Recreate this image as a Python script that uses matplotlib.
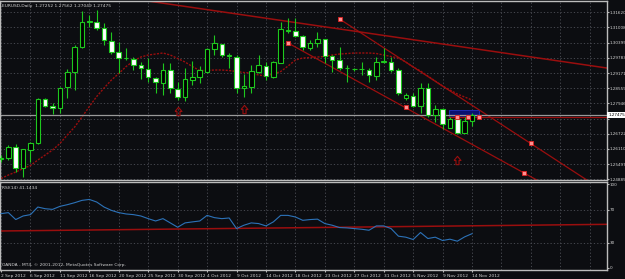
import numpy as np
import matplotlib.pyplot as plt
from matplotlib.patches import Rectangle
from matplotlib.path import Path

# EURUSD daily, 65 bars from 2 Sep 2012 to 14 Nov 2012
opens = [1.25704, 1.25732, 1.26175, 1.25353, 1.26067, 1.26337, 1.28111, 1.27853, 1.27748, 1.28607,
         1.29224, 1.30208, 1.31229, 1.31241, 1.30975, 1.30475, 1.30031, 1.29765, 1.29737, 1.29482,
         1.29333, 1.28982, 1.28781, 1.29293, 1.28515, 1.28192, 1.28890, 1.28999, 1.29224, 1.30128,
         1.30329, 1.29870, 1.29829, 1.28555, 1.28619, 1.29224, 1.29466, 1.28999, 1.29587, 1.30878,
         1.30866, 1.30676, 1.30192, 1.30370, 1.30531, 1.29858, 1.29696, 1.29362, 1.29321, 1.29321,
         1.29293, 1.29063, 1.29628, 1.29628, 1.29293, 1.28152, 1.28244, 1.27841, 1.28579, 1.27478,
         1.27720, 1.26966, 1.27305, 1.26764, 1.27252]
highs = [1.25865, 1.26268, 1.26309, 1.26107, 1.26401, 1.28152, 1.28152, 1.27974, 1.28595, 1.29333,
         1.30301, 1.31672, 1.31511, 1.31713, 1.31176, 1.30838, 1.30434, 1.30180, 1.29829, 1.29628,
         1.29765, 1.29023, 1.29563, 1.29563, 1.28821, 1.29362, 1.29656, 1.29454, 1.30180, 1.30704,
         1.30342, 1.29966, 1.29898, 1.29132, 1.29495, 1.29898, 1.29628, 1.29656, 1.31241, 1.31378,
         1.31378, 1.30704, 1.30503, 1.30813, 1.30543, 1.29898, 1.30233, 1.29495, 1.29374, 1.29628,
         1.29362, 1.29829, 1.30168, 1.29829, 1.29374, 1.28365, 1.28365, 1.28757, 1.28757, 1.27881,
         1.27760, 1.27397, 1.27397, 1.27410, 1.27562]
lows = [1.25583, 1.25663, 1.25191, 1.24990, 1.25595, 1.26309, 1.27801, 1.27518, 1.27571, 1.28152,
        1.28486, 1.30180, 1.31039, 1.30906, 1.30301, 1.29938, 1.29160, 1.29696, 1.29293, 1.28918,
        1.28821, 1.28353, 1.28285, 1.28353, 1.28083, 1.28055, 1.28688, 1.28781, 1.29172, 1.29898,
        1.29817, 1.29362, 1.28353, 1.28216, 1.28377, 1.29172, 1.28890, 1.28958, 1.29575, 1.30773,
        1.30636, 1.30100, 1.30100, 1.30233, 1.29563, 1.29224, 1.29293, 1.28821, 1.29253, 1.29091,
        1.28821, 1.28890, 1.29563, 1.29224, 1.28285, 1.28083, 1.27813, 1.27559, 1.27397, 1.27208,
        1.26901, 1.26954, 1.26752, 1.26752, 1.27049]
closes = [1.25744, 1.26175, 1.25353, 1.26095, 1.26337, 1.28123, 1.27853, 1.27748, 1.28587, 1.29212,
          1.30233, 1.31241, 1.31250, 1.30975, 1.30503, 1.30031, 1.29765, 1.29777, 1.29495, 1.29362,
          1.28999, 1.28797, 1.29293, 1.28555, 1.28216, 1.28930, 1.28999, 1.29293, 1.30128, 1.30370,
          1.29898, 1.29886, 1.28555, 1.28648, 1.29253, 1.29495, 1.29051, 1.29603, 1.30934, 1.30894,
          1.30676, 1.30208, 1.30370, 1.30531, 1.29858, 1.29696, 1.29362, 1.29374, 1.29333, 1.29333,
          1.29091, 1.29603, 1.29644, 1.29293, 1.28353, 1.28285, 1.27853, 1.28555, 1.27478, 1.27720,
          1.27103, 1.27305, 1.26764, 1.27236, 1.27475]
ma = [1.24917, 1.25058, 1.25179, 1.25320, 1.25441, 1.25663, 1.25865, 1.26067, 1.26329, 1.26671,
      1.26994, 1.27397, 1.27821, 1.28224, 1.28567, 1.28890, 1.29152, 1.29434, 1.29656, 1.29817,
      1.29898, 1.29938, 1.29979, 1.29898, 1.29757, 1.29616, 1.29434, 1.29273, 1.29273, 1.29293,
      1.29293, 1.29273, 1.29232, 1.29192, 1.29172, 1.29091, 1.29051, 1.29132, 1.29232, 1.29454,
      1.29696, 1.29777, 1.29797, 1.29817, 1.29837, 1.29898, 1.29938, 1.29958, 1.29979, 1.29979,
      1.29979, 1.29958, 1.29898, 1.29837, 1.29777, 1.29616, 1.29414, 1.29253, 1.29051, 1.28849,
      1.28648, 1.28486, 1.28325, 1.28204, 1.28083]
rsi = [65.1, 66.3, 58.0, 62.3, 63.9, 73.0, 71.0, 70.2, 73.8, 75.8,
       78.2, 81.0, 82.1, 79.0, 73.0, 69.0, 66.3, 64.7, 63.9, 62.3,
       59.1, 56.3, 59.1, 54.0, 48.8, 54.0, 55.2, 56.3, 63.0, 60.3,
       59.1, 59.9, 47.2, 51.2, 54.0, 53.2, 50.4, 55.2, 63.0, 63.0,
       61.1, 57.1, 58.0, 58.5, 53.2, 51.2, 48.4, 48.0, 47.2, 46.4,
       45.2, 50.4, 50.4, 47.2, 38.1, 36.9, 34.1, 42.5, 35.3, 36.9,
       32.9, 34.5, 32.1, 37.3, 41.1]

date_labels = ['2 Sep 2012', '6 Sep 2012', '11 Sep 2012', '16 Sep 2012', '20 Sep 2012',
               '25 Sep 2012', '30 Sep 2012', '4 Oct 2012', '9 Oct 2012', '14 Oct 2012',
               '18 Oct 2012', '23 Oct 2012', '27 Oct 2012', '31 Oct 2012', '5 Nov 2012',
               '9 Nov 2012', '14 Nov 2012']
price_ticks = [1.31620, 1.31008, 1.30395, 1.29783, 1.29171, 1.28559, 1.27946, 1.27334,
               1.26722, 1.26110, 1.25497, 1.24885]
price_labels = ['1.31620', '1.31008', '1.30395', '1.29783', '1.29171', '1.28559', '1.27946', '',
                '1.26722', '1.26110', '1.25497', '1.24885']
rsi_ticks = [0, 30, 70, 100]

# drawn objects
trend_x = [20, 83]
trend_y = [1.32075, 1.29344]
chan_up_x = [46, 79.6]
chan_up_y = [1.31350, 1.24857]
chan_lo_x = [39, 72.8]
chan_lo_y = [1.30382, 1.24857]
dots_x = [39, 46, 55, 62, 63.5, 65, 72, 71.1]
dots_y = [1.30382, 1.31350, 1.27801, 1.27397, 1.27397, 1.27397, 1.26349, 1.25139]
arrows_x = [24, 33, 62]
arrows_y = [1.27640, 1.27720, 1.25663]
box_x = [60.9, 65.0]
box_y = [1.27397, 1.27680]
red_level = 1.27397
bid = 1.27475
rsi_line_x = [-0.2, 82.4]
rsi_line_y = [44.3, 52.3]

bg = '#0c0d11'
green = '#1ec81e'
dred = '#9a0e0e'
txt = '#d2d2d2'
gridc = '#4e5058'
fs = 3.2

plt.rcParams['font.family'] = 'DejaVu Sans'
fig = plt.figure(figsize=(6.25, 2.79), dpi=100, facecolor=bg)
ax = fig.add_axes([0.0, 0.3548, 0.9712, 0.6416], facecolor=bg)
ax2 = fig.add_axes([0.0, 0.0305, 0.9712, 0.3172], facecolor=bg, sharex=ax)

x = np.arange(len(opens))
xmin, xmax = -0.14, 82.34

# grid
for a in (ax, ax2):
    for s in a.spines.values():
        s.set_color('#bcbcbc')
        s.set_linewidth(1.0)
    for k in range(0, 84, 4):
        a.axvline(k, color=gridc, lw=0.6, ls=(0, (1.5, 2.5)), zorder=0)
for p in price_ticks:
    ax.axhline(p, color=gridc, lw=0.6, ls=(0, (1.5, 2.5)), zorder=0)
for p in (30, 70):
    ax2.axhline(p, color=gridc, lw=0.6, ls=(0, (1.5, 2.5)), zorder=0)

# candles
ax.vlines(x, lows, highs, color=green, lw=0.8, zorder=3)
o = np.array(opens)
c = np.array(closes)
face = ['black' if cc >= oo else 'white' for oo, cc in zip(o, c)]
ax.bar(x, np.abs(c - o), bottom=np.minimum(o, c), width=0.62, color=face,
       edgecolor=green, linewidth=0.8, zorder=4)

# moving average and objects
ax.plot(x, ma, color=dred, lw=1.0, ls=(0, (1.5, 1)), zorder=2)
ax.plot(trend_x, trend_y, color=dred, lw=1.1, zorder=2)
ax.plot(chan_up_x, chan_up_y, color=dred, lw=0.9, zorder=2)
ax.plot(chan_lo_x, chan_lo_y, color=dred, lw=0.9, zorder=2)
ax.add_patch(Rectangle((box_x[0], box_y[0]), box_x[1] - box_x[0], box_y[1] - box_y[0],
                       facecolor='#0a1070', edgecolor='#2030c0', lw=0.6, zorder=1))
ax.axhline(bid, color='#9a9a9a', lw=0.9, zorder=2)
ax.plot([box_x[0], xmax], [red_level, red_level], color=dred, lw=0.9, zorder=2)
ax.plot(dots_x, dots_y, ls='none', marker='s', ms=2.2, mfc='#ff9090', mec='#e02020',
        mew=0.6, zorder=6)
arrow = Path([(-0.5, 0), (0, 0.6), (0.5, 0), (0.22, 0), (0.22, -0.6), (-0.22, -0.6),
              (-0.22, 0), (-0.5, 0)])
ax.plot(arrows_x, arrows_y, ls='none', marker=arrow, ms=6, mfc='none', mec=dred,
        mew=0.8, zorder=6)

ax.set_xlim(xmin, xmax)
ax.set_ylim(1.24857, 1.32076)
ax.yaxis.tick_right()
ax.set_yticks(price_ticks)
ax.set_yticklabels(price_labels)
ax.tick_params(axis='y', colors='#bcbcbc', labelcolor=txt, labelsize=3.0, length=1.2, pad=0.6)
ax.tick_params(axis='x', bottom=False, labelbottom=False)
ax.text(1.002, bid, '1.27475', transform=ax.get_yaxis_transform(), fontsize=3.0,
        color='black', va='center', ha='left',
        bbox=dict(boxstyle='square,pad=0.2', fc='white', ec='none'))
ax.text(0.004, 0.985, 'EURUSD,Daily  1.27252 1.27562 1.27049 1.27475', transform=ax.transAxes,
        fontsize=fs, color=txt, va='top', ha='left')

# RSI
ax2.plot(x, rsi, color='#2c72b8', lw=0.8, zorder=3)
ax2.plot(rsi_line_x, rsi_line_y, color=dred, lw=1.1, zorder=2)
ax2.set_ylim(-3, 103)
ax2.yaxis.tick_right()
ax2.set_yticks(rsi_ticks)
ax2.set_yticklabels([str(t) for t in rsi_ticks])
ax2.tick_params(axis='y', colors='#bcbcbc', labelcolor=txt, labelsize=3.0, length=1.2, pad=0.6)
ax2.set_xticks(np.arange(0, 4 * len(date_labels), 4))
ax2.set_xticklabels(date_labels, ha='left')
ax2.tick_params(axis='x', colors='#bcbcbc', labelcolor=txt, labelsize=fs, length=1.5, pad=0.8)
ax2.text(0.004, 0.96, 'RSI(14) 41.1434', transform=ax2.transAxes, fontsize=fs, color=txt,
         va='top', ha='left')
ax2.text(0.004, 0.04, 'OANDA - MT4, \u00a9 2001-2012, MetaQuotes Software Corp.',
         transform=ax2.transAxes, fontsize=fs, color=txt, va='bottom', ha='left')

plt.savefig('out.png', dpi=100, facecolor=bg)
